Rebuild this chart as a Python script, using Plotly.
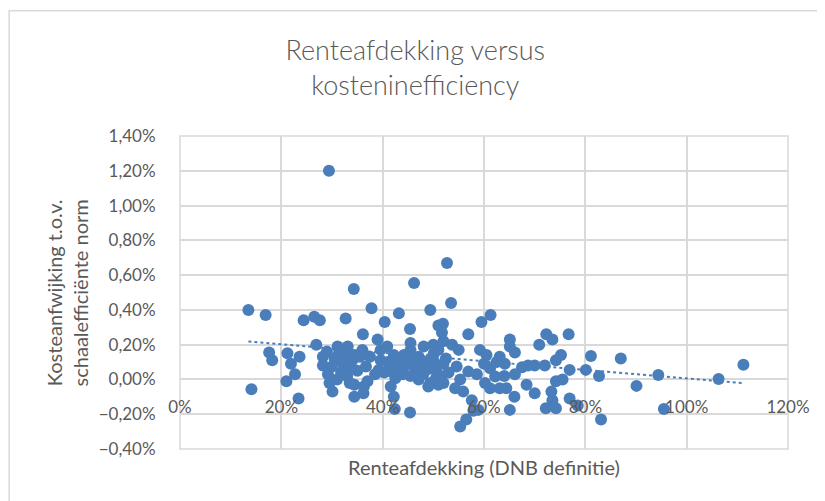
import plotly.graph_objects as go

# Renteafdekking (x, in %) and kostenafwijking (y, in %) per fonds
renteafdekking_pct = [
    13.5, 16.9, 14.1, 17.6, 18.2, 21.2, 21.0, 22.7, 23.4, 24.4, 26.5, 27.6, 32.7, 34.3, 37.8,
    36.1, 40.4, 26.9, 23.6, 21.9, 28.2, 28.2, 29.2, 29.5, 30.1, 31.1, 32.4, 33.7, 34.4, 36.3,
    36.2, 36.7, 39.0, 39.6, 40.3, 36.0, 31.8, 33.0, 30.0,
    43.2, 49.4, 45.4, 51.0, 33.1, 40.9, 45.5, 48.1, 31.2, 34.4, 42.2, 44.2, 47.1, 50.1, 32.4,
    39.2, 41.6, 42.5, 34.4, 41.6, 42.2, 42.4, 45.4, 47.1, 49.4, 50.7, 47.8, 39.6, 45.5,
    53.5, 59.5, 61.3, 51.9, 56.9, 51.7, 65.1, 72.3, 76.7, 70.9, 73.5, 53.7, 55.0, 59.2, 60.5,
    65.1, 66.1, 63.1, 64.1, 75.2, 74.2, 68.7, 70.0, 72.0, 76.9, 50.0, 52.0, 54.6, 56.9, 58.6,
    61.2, 62.2, 66.1, 68.4, 74.2, 75.5, 50.4, 52.0, 55.3, 54.3, 55.9, 60.2, 61.2, 63.1, 64.4,
    66.0, 70.0, 73.3, 73.5, 72.2, 74.2, 76.9, 65.1, 57.9, 58.9, 56.5, 55.3, 57.6,
    29.4, 52.7, 46.2,
    81.1, 87.0, 80.1, 82.7, 90.1, 94.4, 83.1, 95.5, 106.3, 111.2,
    48.5, 49.5, 50.5, 51.5, 49.0, 50.0, 51.0, 48.0, 47.5, 52.5, 53.0, 46.5, 51.0, 49.0, 52.0,
    46.0, 44.5, 45.5, 43.5,
    30.5, 32.0, 34.0, 35.0, 31.0, 33.5, 29.0, 35.5, 37.5, 38.5, 37.0, 43.0, 41.0, 44.0,
    62.5, 64.0, 60.0, 67.5, 78.5,
]
kostenafwijking_pct = [
    0.40, 0.37, -0.056, 0.155, 0.11, 0.15, -0.01, 0.03, -0.11, 0.34, 0.36, 0.34, 0.35, 0.52, 0.41,
    0.26, 0.33, 0.20, 0.13, 0.09, 0.13, 0.08, 0.03, -0.02, -0.07, 0.19, 0.15, 0.075, -0.10, -0.04,
    -0.08, 0.075, 0.23, 0.17, 0.04, 0.17, 0.04, 0.02, 0.075,
    0.38, 0.40, 0.29, 0.31, 0.19, 0.19, 0.21, 0.19, 0.14, 0.14, 0.14, 0.14, 0.13, 0.15, 0.075,
    0.055, 0.045, 0.007, -0.03, -0.04, -0.10, -0.17, -0.19, 0.00, -0.02, 0.075, 0.075, 0.11, 0.17,
    0.44, 0.33, 0.37, 0.32, 0.26, 0.27, 0.23, 0.26, 0.26, 0.20, 0.23, 0.20, 0.17, 0.17, 0.14,
    0.19, 0.155, 0.13, 0.09, 0.14, 0.11, 0.08, 0.08, 0.08, 0.055, 0.11, 0.09, 0.075, 0.045, 0.03,
    0.065, 0.017, 0.03, -0.03, -0.01, 0.00, 0.00, -0.02, 0.00, -0.05, -0.07, -0.02, -0.05, -0.05, -0.05,
    -0.10, -0.08, -0.07, -0.12, -0.165, -0.165, -0.11, -0.175, -0.18, -0.175, -0.23, -0.27, -0.12,
    1.20, 0.67, 0.555,
    0.135, 0.12, 0.055, 0.02, -0.037, 0.026, -0.23, -0.17, 0.003, 0.085,
    0.10, 0.12, 0.05, 0.02, 0.06, 0.20, 0.17, 0.03, 0.09, 0.12, 0.04, 0.06, -0.03, -0.04, 0.22,
    0.11, 0.08, 0.02, 0.05,
    0.12, 0.10, 0.11, 0.05, 0.00, -0.02, 0.16, 0.13, 0.13, 0.03, -0.01, 0.09, 0.10, 0.03,
    0.10, 0.02, 0.09, 0.07, -0.15,
]

# Lineaire trendlijn (begin- en eindpunt zoals in de grafiek)
trend_x_pct = [13.5, 111.2]
trend_y_pct = [0.218, -0.021]

x_vals = [v / 100 for v in renteafdekking_pct]
y_vals = [v / 100 for v in kostenafwijking_pct]

blue = '#4a7ebb'
grey_text = '#595959'
grid = '#d9d9d9'
font_family = 'Lato, Open Sans, sans-serif'

fig = go.Figure()

fig.add_trace(go.Scatter(
    x=x_vals,
    y=y_vals,
    mode='markers',
    marker=dict(color=blue, size=12, line=dict(width=0)),
    showlegend=False
))

fig.add_trace(go.Scatter(
    x=[v / 100 for v in trend_x_pct],
    y=[v / 100 for v in trend_y_pct],
    mode='lines',
    line=dict(color=blue, width=2, dash='dot'),
    showlegend=False
))

# position of y=0 inside the y range, so the x labels sit on the zero line like in Excel
y_min, y_max = -0.004, 0.014
zero_pos = (0 - y_min) / (y_max - y_min)

# page body has an 8px margin, so the figure is 8px smaller than the window
fig.update_layout(
    width=817,
    height=493,
    margin=dict(l=172, r=37, t=128, b=52),
    paper_bgcolor='white',
    plot_bgcolor='white',
    separators=',.',
    font=dict(family=font_family, color=grey_text, size=17),
    title=dict(
        text='Renteafdekking versus<br>kosteninefficiency',
        x=0.387, xref='paper', xanchor='center',
        y=0.895, yanchor='middle',
        font=dict(size=27, color=grey_text, family=font_family, weight=300)
    ),
    xaxis=dict(
        range=[0, 1.2],
        dtick=0.2,
        tickformat='.0%',
        showgrid=True,
        gridcolor=grid,
        gridwidth=1.5,
        zeroline=False,
        anchor='free',
        position=zero_pos,
        ticks='outside',
        ticklen=12,
        tickcolor='rgba(0,0,0,0)',
        tickfont=dict(size=17, color=grey_text),
        showline=False,
    ),
    yaxis=dict(
        range=[y_min, y_max],
        dtick=0.002,
        tickformat='.2%',
        showgrid=True,
        gridcolor=grid,
        gridwidth=1.5,
        zeroline=True,
        zerolinecolor=grid,
        zerolinewidth=1.5,
        ticks='outside',
        ticklen=20,
        tickcolor='rgba(0,0,0,0)',
        tickfont=dict(size=17, color=grey_text),
    ),
    shapes=[
        # plot area border
        dict(type='rect', xref='paper', yref='paper', x0=0, x1=1, y0=0, y1=1,
             line=dict(color=grid, width=1.5), layer='below'),
        # chart border (runs off the right and bottom edge)
        dict(type='rect', xref='paper', yref='paper', x0=-0.281, x1=1.08, y0=-0.18, y1=1.4,
             line=dict(color=grid, width=1.5), layer='below'),
    ],
    annotations=[
        dict(text='Kosteanfwijking t.o.v.<br>schaalefficiënte norm',
             xref='paper', yref='paper', x=-0.186, y=0.5,
             xanchor='center', yanchor='middle',
             textangle=-90, showarrow=False,
             font=dict(size=20, color=grey_text)),
        dict(text='Renteafdekking (DNB definitie)',
             xref='paper', yref='paper', x=0.5, y=-0.0575,
             xanchor='center', yanchor='middle', showarrow=False,
             font=dict(size=20, color=grey_text)),
    ]
)

fig.write_html("out.html")
